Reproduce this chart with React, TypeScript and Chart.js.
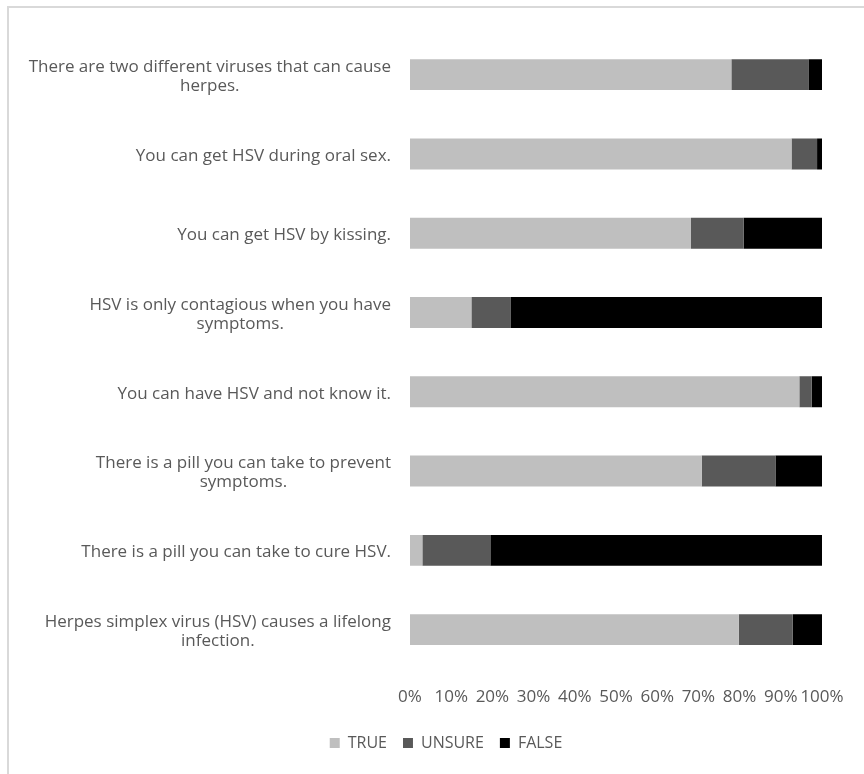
import React, { useEffect, useRef } from "react";
import { Chart, registerables } from "chart.js";

Chart.register(...registerables);

const categories: string[][] = [
  ["There are two different viruses that can cause", "herpes."],
  ["You can get HSV during oral sex."],
  ["You can get HSV by kissing."],
  ["HSV is only contagious when you have", "symptoms."],
  ["You can have HSV and not know it."],
  ["There is a pill you can take to prevent", "symptoms."],
  ["There is a pill you can take to cure HSV."],
  ["Herpes simplex virus (HSV) causes a lifelong", "infection."],
];

const trueValues = [78.0, 92.6, 68.2, 14.9, 94.5, 70.8, 3.0, 79.8];
const unsureValues = [18.7, 6.2, 12.8, 9.6, 3.0, 17.9, 16.5, 13.1];
const falseValues = [3.3, 1.2, 19.0, 75.5, 2.5, 11.3, 80.5, 7.1];

const xTicks = [0, 10, 20, 30, 40, 50, 60, 70, 80, 90, 100];

const FONT = "'Open Sans'";
const LABEL_SIZE = 17;
const LEGEND_SIZE = 16;
const TEXT_COLOR = "#595959";

const yLabelPlugin = {
  id: "yLabelPlugin",
  afterDraw(chart: any) {
    const ctx = chart.ctx;
    const yScale = chart.scales.y;
    const right = chart.chartArea.left - 19;
    ctx.save();
    ctx.font = `${LABEL_SIZE}px ${FONT}`;
    ctx.fillStyle = TEXT_COLOR;
    ctx.textAlign = "center";
    ctx.textBaseline = "middle";
    const lh = 19;
    categories.forEach((lines, i) => {
      const py = yScale.getPixelForValue(i) + 2;
      const w = Math.max(...lines.map((l) => ctx.measureText(l).width));
      const cx = right - w / 2;
      lines.forEach((l, j) => {
        ctx.fillText(l, cx, py + (j - (lines.length - 1) / 2) * lh);
      });
    });
    ctx.restore();
  },
};

export default function App() {
  const ref = useRef<HTMLCanvasElement>(null);

  useEffect(() => {
    if (!ref.current) return;
    const chart = new Chart(ref.current, {
      type: "bar",
      data: {
        labels: categories.map((c) => c.join(" ")),
        datasets: [
          { label: "TRUE", data: trueValues, backgroundColor: "#bfbfbf", barPercentage: 0.39, categoryPercentage: 1 },
          { label: "UNSURE", data: unsureValues, backgroundColor: "#595959", barPercentage: 0.39, categoryPercentage: 1 },
          { label: "FALSE", data: falseValues, backgroundColor: "#000000", barPercentage: 0.39, categoryPercentage: 1 },
        ],
      },
      options: {
        indexAxis: "y",
        responsive: false,
        animation: false,
        layout: { padding: { left: 70, right: 42, top: 35, bottom: 13 } },
        scales: {
          x: {
            stacked: true,
            min: 0,
            max: 100,
            afterBuildTicks: (scale: any) => {
              scale.ticks = xTicks.map((v) => ({ value: v }));
            },
            afterFit: (scale: any) => {
              scale.height = 49.7;
            },
            ticks: {
              callback: (v: any) => `${v}%`,
              color: TEXT_COLOR,
              font: { family: FONT, size: LABEL_SIZE },
              padding: 18,
              maxRotation: 0,
              autoSkip: false,
            },
            grid: { display: false, drawTicks: false },
            border: { display: false },
          },
          y: {
            stacked: true,
            afterFit: (scale: any) => {
              scale.width = 340;
            },
            ticks: { display: false },
            grid: { display: false, drawTicks: false },
            border: { display: false },
          },
        },
        plugins: {
          legend: {
            position: "bottom",
            labels: {
              boxWidth: 10,
              boxHeight: 10,
              padding: 16,
              color: TEXT_COLOR,
              font: { family: FONT, size: LEGEND_SIZE },
            },
          },
          tooltip: { enabled: false },
        },
      },
      plugins: [yLabelPlugin],
    });
    return () => chart.destroy();
  }, []);

  return (
    <div style={{ position: "fixed", left: 0, top: 0, width: 864, height: 774, background: "#fff", overflow: "hidden" }}>
      <div
        style={{
          position: "absolute",
          left: 7,
          top: 6,
          width: 900,
          height: 900,
          border: "2px solid #d9d9d9",
          boxSizing: "border-box",
        }}
      />
      <canvas ref={ref} width={864} height={774} style={{ position: "absolute", left: 0, top: 0 }} />
    </div>
  );
}
